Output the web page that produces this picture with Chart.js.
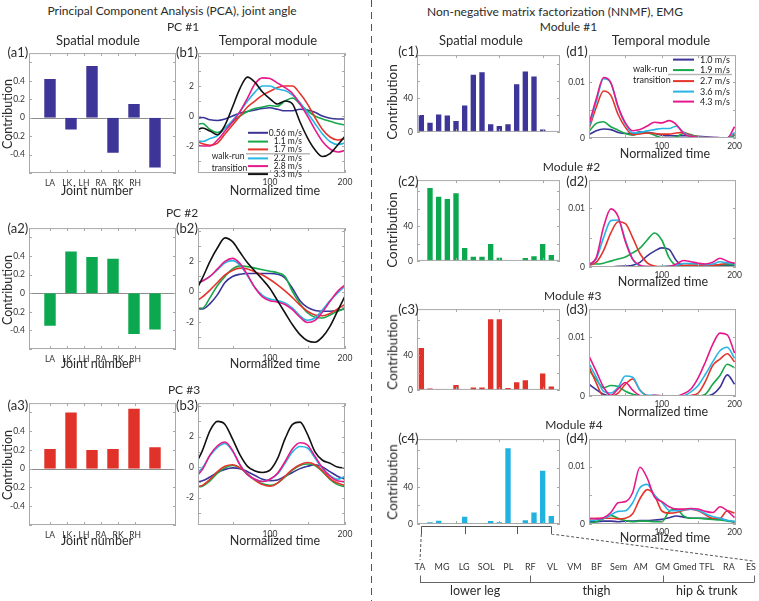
<!DOCTYPE html>
<html>
<head>
<meta charset="utf-8">
<title>PCA joint angle and NNMF EMG modules</title>
<script src="https://cdn.jsdelivr.net/npm/chart.js@4.4.1/dist/chart.umd.min.js"></script>
<style>
  html, body { margin: 0; padding: 0; background: #fff; }
  #fig { position: relative; width: 759px; height: 601px; overflow: hidden;
         font-family: Lato, "Open Sans", "DejaVu Sans", sans-serif; color: #2b2b2b; }
  #fig canvas { position: absolute; }
  .txt { position: absolute; white-space: nowrap; line-height: 1; transform: translate(-50%, -50%); }
  #sep { position: absolute; left: 371px; top: 0; width: 1px; height: 601px;
         background: repeating-linear-gradient(to bottom, #555 0 7px, transparent 7px 12px); }
</style>
</head>
<body>
<div id="fig"><div id="sep"></div></div>
<script>
// ---------- data: PCA, joint angle ----------
const joints = ["LA", "LK", "LH", "RA", "RK", "RH"];
const jointTickPos = [1, 1.82, 2.62, 3.43, 4.24, 5.05];
const pc1Spatial = [0.43, -0.14, 0.57, -0.39, 0.16, -0.55];
const pc2Spatial = [-0.36, 0.46, 0.40, 0.38, -0.45, -0.40];
const pc3Spatial = [0.22, 0.61, 0.21, 0.22, 0.65, 0.24];

const timeAxis = [0, 10, 20, 30, 40, 50, 60, 70, 80, 90, 100, 110, 120, 130, 140, 150, 160, 170, 180, 190, 200];
const pcaSpeeds = ["0.56 m/s", "1.1 m/s", "1.7 m/s", "2.2 m/s", "2.8 m/s", "3.3 m/s"];

// one row per speed, same order as pcaSpeeds
const pc1Temporal = [
  [-0.2, -0.1, -0.25, -0.3, -0.2, 0.0, 0.2, 0.3, 0.4, 0.5, 0.55, 0.45, 0.35, 0.35, 0.45, 0.4, 0.25, 0.0, -0.15, -0.2, -0.2],
  [-0.6, -0.5, -0.9, -1.1, -0.8, -0.4, 0.0, 0.3, 0.5, 0.6, 0.7, 0.65, 1.0, 1.2, 0.8, 0.35, 0.0, -0.2, -0.35, -0.5, -0.6],
  [-1.6, -1.85, -1.95, -1.8, -1.2, -0.6, 0.0, 0.6, 1.0, 1.4, 1.65, 1.9, 2.0, 2.0, 1.5, 0.8, -0.1, -0.9, -1.4, -1.6, -1.5],
  [-1.65, -1.7, -1.5, -1.3, -0.8, -0.3, 0.3, 1.0, 1.6, 2.0, 2.0, 1.8, 1.7, 1.4, 0.9, 0.2, -0.5, -1.2, -1.7, -1.9, -1.8],
  [-1.9, -2.0, -2.0, -1.6, -1.0, -0.4, 0.3, 1.2, 2.15, 2.55, 2.5, 2.2, 1.9, 1.5, 0.8, 0.0, -0.9, -1.7, -2.2, -2.4, -2.3],
  [-1.0, -0.8, -1.0, -1.25, -0.6, 0.6, 1.85, 2.6, 2.25, 1.6, 1.15, 0.8, 1.0, 0.8, -0.4, -1.45, -2.25, -2.7, -2.5, -1.95, -1.35]
];
const pc2Temporal = [
  [-1.1, -1.15, -0.8, -0.2, 0.6, 1.0, 1.15, 1.2, 1.2, 1.2, 1.2, 1.15, 0.9, 0.2, -0.6, -1.05, -1.25, -1.3, -1.3, -1.25, -1.15],
  [-1.05, -1.1, -0.4, 0.4, 1.0, 1.5, 1.7, 1.65, 1.55, 1.45, 1.35, 1.25, 1.0, 0.0, -0.8, -1.4, -1.7, -1.75, -1.55, -1.3, -1.1],
  [-0.7, -0.35, 0.1, 0.6, 1.1, 1.4, 1.55, 1.5, 1.3, 1.1, 0.8, 0.45, 0.05, -0.4, -0.9, -1.3, -1.55, -1.6, -1.45, -1.15, -0.85],
  [0.5, 0.7, 1.0, 1.45, 1.9, 2.05, 1.75, 1.05, 0.25, -0.25, -0.5, -0.6, -0.75, -1.1, -1.6, -1.9, -1.75, -1.2, -0.6, -0.1, 0.35],
  [0.5, 0.7, 1.0, 1.5, 2.0, 2.2, 1.85, 1.1, 0.25, -0.35, -0.6, -0.7, -0.85, -1.2, -1.7, -2.05, -1.9, -1.35, -0.65, 0.0, 0.45],
  [-0.05, 0.9, 2.0, 2.9, 3.55, 3.3, 2.6, 1.9, 1.35, 0.8, 0.2, -0.6, -1.4, -2.2, -2.85, -3.25, -3.35, -3.0, -2.3, -1.3, -0.3]
];
const pc3Temporal = [
  [-1.0, -0.9, -0.65, -0.35, -0.15, -0.05, -0.1, -0.3, -0.55, -0.8, -0.9, -0.85, -0.6, -0.35, -0.1, 0.05, 0.15, 0.0, -0.3, -0.6, -0.8],
  [-1.3, -1.25, -0.9, -0.4, -0.05, 0.1, -0.05, -0.45, -0.85, -1.1, -1.2, -1.05, -0.65, -0.2, 0.1, 0.2, 0.1, -0.3, -0.8, -1.15, -1.3],
  [-1.3, -1.2, -0.8, -0.3, 0.05, 0.15, -0.05, -0.45, -0.85, -1.15, -1.25, -1.05, -0.6, -0.15, 0.15, 0.3, 0.15, -0.25, -0.75, -1.05, -1.2],
  [-0.5, -0.05, 0.75, 1.3, 1.55, 1.05, 0.15, -0.5, -0.8, -0.95, -0.8, -0.45, 0.25, 1.0, 1.35, 1.25, 0.6, -0.1, -0.55, -0.8, -0.6],
  [-0.7, -0.15, 0.8, 1.4, 1.65, 1.1, 0.15, -0.5, -0.8, -0.95, -0.8, -0.4, 0.35, 1.2, 1.6, 1.45, 0.7, -0.05, -0.6, -0.9, -0.95],
  [0.1, 1.1, 2.4, 3.0, 2.8, 1.85, 0.8, 0.05, -0.25, -0.35, -0.2, 0.55, 1.85, 2.8, 2.95, 2.15, 1.0, 0.45, 0.25, 0.0, -0.05]
];

// ---------- data: NNMF, EMG ----------
const muscles = ["TA", "MG", "LG", "SOL", "PL", "RF", "VL", "VM", "BF", "Sem", "AM", "GM", "Gmed", "TFL", "RA", "ES"];
const muscleGroups = ["lower leg", "thigh", "hip & trunk"];
const groupEdges = [0, 5, 11, 15]; // muscle index at each bracket tick

const mod1Spatial = [21, 12, 21.5, 20.5, 14, 32, 68, 71, 10, 8, 10, 57, 72, 66, 4, 0.5];
const mod2Spatial = [0.3, 85, 75, 72.5, 79, 16, 6, 6, 20.5, 4.7, 0.3, 0.3, 4.4, 6.4, 20.5, 7.8];
const mod3Spatial = [49.5, 2.7, 1, 0, 6.8, 0, 4, 4, 82.5, 82.5, 3.4, 10, 12.2, 0, 20, 5];
const mod4Spatial = [1.7, 3, 4.7, 0.3, 0.2, 8.8, 2, 0, 4.4, 3, 82.8, 2, 5, 13.5, 58.6, 9.8];

const emgSpeeds = ["1.0 m/s", "1.9 m/s", "2.7 m/s", "3.6 m/s", "4.3 m/s"];
// temporal modules in units of 1e-3, one row per speed (emgSpeeds order)
const mod1TemporalMilli = [
  [0.6, 1.3, 1.6, 1.5, 1.0, 0.8, 0.8, 1.1, 1.0, 0.8, 0.5, 0.4, 0.4, 0.4, 0.4, 0.3, 0.2, 0.1, 0.05, 0.05, 0.5],
  [1.2, 2.6, 2.9, 2.0, 1.4, 0.8, 0.5, 0.9, 0.9, 0.5, 0.05, 0.0, 0.2, 0.8, 0.6, 0.2, 0.05, 0.0, 0.0, 0.0, 0.5],
  [1.6, 5.5, 8.4, 7.6, 4.2, 1.9, 0.6, 0.7, 0.9, 0.8, 0.7, 0.7, 0.9, 1.0, 0.5, 0.2, 0.1, 0.05, 0.05, 0.0, 0.8],
  [1.9, 6.5, 10.6, 9.8, 5.5, 2.5, 0.9, 1.0, 1.3, 1.5, 1.7, 1.7, 2.1, 1.0, 0.3, 0.2, 0.1, 0.1, 0.05, 0.0, 1.0],
  [2.4, 7.0, 10.8, 9.9, 5.6, 2.7, 1.3, 1.5, 2.15, 2.8, 2.7, 3.1, 2.4, 0.8, 0.25, 0.15, 0.1, 0.1, 0.05, 0.0, 2.0]
];
const mod2TemporalMilli = [
  [0.1, 0.05, 0.05, 0.05, 0.1, 0.15, 0.3, 0.8, 1.9, 2.7, 3.25, 3.0, 1.1, 0.2, 0.1, 0.1, 0.1, 0.1, 0.2, 0.2, 0.2],
  [0.6, 0.5, 0.65, 1.0, 1.35, 1.7, 2.4, 3.2, 4.6, 5.8, 4.6, 1.6, 0.3, 0.2, 0.3, 0.3, 0.3, 0.3, 0.4, 0.4, 0.4],
  [0.3, 0.8, 2.8, 5.8, 7.7, 7.4, 5.0, 2.3, 0.7, 0.15, 0.05, 0.05, 0.1, 0.3, 0.3, 0.3, 0.3, 0.3, 0.4, 0.6, 0.7],
  [0.4, 1.4, 5.0, 7.9, 8.0, 4.6, 1.3, 0.2, 0.05, 0.05, 0.1, 0.15, 0.3, 0.6, 0.6, 0.5, 0.4, 0.5, 0.9, 0.7, 0.5],
  [0.4, 1.6, 6.8, 9.9, 8.6, 4.3, 1.35, 0.3, 0.1, 0.05, 0.05, 0.1, 0.5, 1.1, 0.9, 0.65, 0.5, 0.8, 1.5, 1.0, 0.6]
];
const mod3TemporalMilli = [
  [2.0, 1.1, 0.3, 0.0, 0.0, 0.0, 0.0, 0.0, 0.0, 0.0, 0.0, 0.0, 0.0, 0.0, 0.0, 0.0, 0.0, 0.3, 1.5, 3.6, 2.0],
  [4.4, 2.8, 1.4, 1.8, 1.6, 0.8, 0.3, 0.05, 0.0, 0.0, 0.0, 0.0, 0.0, 0.0, 0.0, 0.0, 0.3, 2.0, 3.5, 5.4, 4.8],
  [5.0, 2.2, 0.0, 0.0, 0.5, 2.0, 2.9, 1.0, 0.1, 0.0, 0.0, 0.0, 0.0, 0.0, 0.1, 0.5, 2.5, 5.2, 6.3, 7.2, 5.8],
  [5.5, 3.2, 0.8, 0.5, 1.5, 3.4, 3.2, 1.0, 0.1, 0.1, 0.0, 0.0, 0.0, 0.05, 0.7, 1.8, 3.7, 5.8, 7.7, 8.3, 6.4],
  [6.8, 4.2, 1.5, 0.1, 1.2, 2.3, 1.0, 0.1, 0.0, 0.1, 0.05, 0.0, 0.0, 0.4, 1.2, 3.1, 5.8, 8.8, 10.7, 10.4, 7.3]
];
const mod4TemporalMilli = [
  [0.4, 0.4, 0.5, 0.5, 0.4, 0.5, 0.5, 0.6, 0.6, 0.7, 0.8, 1.1, 1.4, 1.2, 1.0, 1.0, 1.0, 0.9, 0.9, 0.6, 0.3],
  [0.1, 0.4, 0.9, 1.5, 1.0, 0.6, 0.4, 0.5, 0.5, 0.4, 0.4, 2.2, 2.6, 1.4, 1.0, 1.0, 0.9, 0.8, 0.7, 0.5, 0.4],
  [0.9, 1.0, 1.0, 1.0, 0.9, 1.0, 1.8, 4.4, 6.0, 5.0, 2.3, 1.9, 2.0, 2.4, 2.6, 2.3, 1.6, 1.0, 1.0, 2.3, 1.9],
  [0.6, 0.7, 1.0, 1.6, 2.2, 2.3, 3.7, 6.3, 6.9, 5.0, 3.8, 2.4, 2.3, 2.5, 2.6, 2.4, 1.8, 1.3, 1.0, 0.6, 0.5],
  [1.0, 0.9, 1.1, 2.0, 3.7, 3.9, 5.5, 9.9, 8.0, 4.7, 3.9, 3.0, 2.6, 2.6, 2.7, 2.6, 2.2, 2.0, 3.0, 2.3, 1.1]
];

// ticks
const pcaYTicks = [-0.6, -0.4, -0.2, 0, 0.2, 0.4, 0.6];
const pcaYLabels = [-0.4, -0.2, 0, 0.2, 0.4];
const tempYTicks = [-3, -2, -1, 0, 1, 2, 3, 4];
const tempYLabels = [-2, 0, 2];
const timeTicks = [50, 100, 150, 200];
const timeLabels = [100, 200];
const contribTicks = [0, 20, 40, 60, 80];
const contribLabels = [0, 40];
const muscleTicks = [5, 10, 15];
const emgYTicks = [0, 0.005, 0.01];
const emgYLabels = [0, 0.01];

// ---------- setup ----------
const FONT = 'Lato, "Open Sans", "DejaVu Sans", sans-serif';
Chart.defaults.font.family = FONT;
Chart.defaults.color = "#333";

const LINE_COLORS = ["#3a3398", "#16a84a", "#e5352b", "#27b5e5", "#e6198b", "#111111"];
const fig = document.getElementById("fig");
const charts = {};

const boxPlugin = {
  id: "box",
  beforeDatasetsDraw(chart, args, o) {
    if (!o.zeroLine) return;
    const { ctx, chartArea: a } = chart;
    const y = Math.round(chart.scales.y.getPixelForValue(0)) + 0.5;
    ctx.save();
    ctx.strokeStyle = "#8c8c8c";
    ctx.lineWidth = 1;
    ctx.beginPath();
    ctx.moveTo(a.left, y);
    ctx.lineTo(a.right, y);
    ctx.stroke();
    ctx.restore();
  },
  afterDatasetsDraw(chart) {
    const { ctx, chartArea: a, scales } = chart;
    ctx.save();
    ctx.strokeStyle = "#a9a9a9";
    ctx.lineWidth = 1;
    ctx.strokeRect(a.left + 0.5, a.top + 0.5, a.right - a.left - 1, a.bottom - a.top - 1);
    ctx.beginPath();
    scales.x.ticks.forEach((t) => {
      const x = Math.round(scales.x.getPixelForValue(t.value)) + 0.5;
      ctx.moveTo(x, a.bottom); ctx.lineTo(x, a.bottom - 3);
      ctx.moveTo(x, a.top); ctx.lineTo(x, a.top + 3);
    });
    scales.y.ticks.forEach((t) => {
      const y = Math.round(scales.y.getPixelForValue(t.value)) + 0.5;
      ctx.moveTo(a.left, y); ctx.lineTo(a.left + 3, y);
      ctx.moveTo(a.right, y); ctx.lineTo(a.right - 3, y);
    });
    ctx.stroke();
    ctx.restore();
  }
};

// legend with the walk-run transition marker
const speedLegend = {
  id: "speedLegend",
  afterDatasetsDraw(chart, args, o) {
    if (!o.names) return;
    const { ctx, chartArea: a } = chart;
    ctx.save();
    ctx.font = o.size + "px " + FONT;
    ctx.textBaseline = "middle";
    o.names.forEach((name, i) => {
      const y = a.top + o.rows[i];
      ctx.strokeStyle = chart.data.datasets[i].borderColor;
      ctx.lineWidth = 2;
      ctx.beginPath();
      ctx.moveTo(a.left + o.line[0], y);
      ctx.lineTo(a.left + o.line[1], y);
      ctx.stroke();
      ctx.fillStyle = "#222";
      ctx.textAlign = o.align;
      ctx.fillText(name, a.left + o.textX, y);
    });
    ctx.strokeStyle = "#b8b8b8";
    ctx.lineWidth = 1.5;
    ctx.beginPath();
    ctx.moveTo(a.left + o.sep[0], a.top + o.sep[2]);
    ctx.lineTo(a.left + o.sep[1], a.top + o.sep[2]);
    ctx.stroke();
    ctx.fillStyle = "#222";
    ctx.textAlign = "left";
    ctx.fillText("walk-run", a.left + o.note[0], a.top + o.note[1]);
    ctx.fillText("transition", a.left + o.note[0], a.top + o.note[2]);
    ctx.restore();
  }
};

// bracket under the c4 axis
const c4Bracket = {
  id: "c4Bracket",
  afterDraw(chart) {
    const { ctx, chartArea: a, scales: { x } } = chart;
    const y0 = a.bottom + 2.5, y1 = a.bottom + 10;
    ctx.save();
    ctx.strokeStyle = "#555";
    ctx.lineWidth = 1;
    ctx.beginPath();
    ctx.moveTo(x.getPixelForValue(1), y0);
    ctx.lineTo(x.getPixelForValue(muscles.length), y0);
    groupEdges.forEach((e) => {
      const xx = Math.round(x.getPixelForValue(e + 1)) + 0.5;
      ctx.moveTo(xx, y0);
      ctx.lineTo(xx, y1);
    });
    ctx.stroke();
    ctx.restore();
  }
};

// expanded muscle axis with the zoom lines and group brackets
const muscleAxis = {
  id: "muscleAxis",
  afterDraw(chart) {
    const { ctx, chartArea: a, scales: { x } } = chart;
    const c4 = charts.c4;
    const dx = c4.canvas.offsetLeft - chart.canvas.offsetLeft;
    const px = (i) => x.getPixelForValue(i);
    ctx.save();
    ctx.strokeStyle = "#555";
    ctx.lineWidth = 1;
    ctx.setLineDash([3, 2]);
    ctx.beginPath();
    ctx.moveTo(c4.scales.x.getPixelForValue(1) + dx, 0);
    ctx.lineTo(px(0), a.bottom + 1);
    ctx.moveTo(c4.scales.x.getPixelForValue(muscles.length) + dx, 0);
    ctx.lineTo(px(muscles.length - 1) + 2, a.bottom + 2);
    ctx.stroke();
    ctx.setLineDash([]);
    const yb = a.bottom + 23.5, yt = a.bottom + 16.5;
    ctx.strokeStyle = "#666";
    ctx.beginPath();
    ctx.moveTo(px(groupEdges[0]), yb);
    ctx.lineTo(px(groupEdges[groupEdges.length - 1]) + 3, yb);
    groupEdges.forEach((e, k) => {
      const xx = Math.round(px(e) + (k === groupEdges.length - 1 ? 3 : 0)) + 0.5;
      ctx.moveTo(xx, yb);
      ctx.lineTo(xx, yt);
    });
    ctx.stroke();
    ctx.fillStyle = "#2b2b2b";
    ctx.font = "12.5px " + FONT;
    ctx.textAlign = "center";
    ctx.textBaseline = "middle";
    muscleGroups.forEach((g, k) => {
      ctx.fillText(g, (px(groupEdges[k]) + px(groupEdges[k + 1])) / 2, a.bottom + 32);
    });
    ctx.restore();
  }
};

function placeCanvas(area, pad) {
  const c = document.createElement("canvas");
  const w = area.r - area.l + pad.L + pad.R;
  const h = area.b - area.t + pad.T + pad.B;
  c.width = w;
  c.height = h;
  c.style.cssText = `left:${area.l - pad.L}px;top:${area.t - pad.T}px;width:${w}px;height:${h}px;`;
  fig.appendChild(c);
  return c;
}

function linScale(cfg, size, isX) {
  return {
    type: "linear",
    min: cfg.min,
    max: cfg.max,
    offset: false,
    grid: { display: false, drawTicks: false, offset: false },
    border: { display: false },
    afterBuildTicks: (s) => { s.ticks = cfg.ticks.map((v) => ({ value: v })); },
    ticks: {
      display: cfg.format !== null,
      autoSkip: false,
      maxRotation: 0,
      padding: cfg.padding || 4,
      font: { size: 8.5 },
      color: "#333",
      callback: cfg.format || (() => "")
    },
    afterFit: (s) => { if (isX) s.height = size; else s.width = size; }
  };
}

const shown = (list) => (v) => (list.includes(v) ? String(v) : "");

function makeChart(key, area, pad, type, datasets, xCfg, yCfg, pluginOpts, extraPlugins) {
  const canvas = placeCanvas(area, pad);
  charts[key] = new Chart(canvas, {
    type,
    data: { datasets },
    options: {
      responsive: false,
      animation: false,
      events: [],
      layout: { autoPadding: false, padding: { left: 0, top: pad.T, right: pad.R, bottom: 0 } },
      scales: { x: linScale(xCfg, pad.B, true), y: linScale(yCfg, pad.L, false) },
      plugins: Object.assign({ legend: { display: false }, tooltip: { enabled: false } }, pluginOpts)
    },
    plugins: [boxPlugin, speedLegend].concat(extraPlugins || [])
  });
}

function barSet(values, color, pct) {
  return [{
    data: values.map((v, i) => ({ x: i + 1, y: v })),
    backgroundColor: color,
    borderColor: "rgba(255,255,255,0.45)",
    borderWidth: 1,
    barPercentage: pct,
    categoryPercentage: 1
  }];
}

function lineSets(rows, scale) {
  return rows.map((vals, i) => ({
    data: vals.map((v, k) => ({ x: timeAxis[k], y: v * scale })),
    borderColor: LINE_COLORS[i],
    borderWidth: 1.6,
    pointRadius: 0,
    fill: false,
    cubicInterpolationMode: "monotone",
    order: rows.length - i
  }));
}

// ---------- left: PCA ----------
const jointX = { min: 0, max: 7, ticks: jointTickPos, format: (v, i) => joints[i], padding: 5 };
const pcaY = { min: -0.6, max: 0.7, ticks: pcaYTicks, format: shown(pcaYLabels) };
const pcaPad = { L: 29, T: 4, R: 4, B: 15 };
const pcaBars = [["a1", 48, 173, pc1Spatial, "#3d3597"], ["a2", 223, 349, pc2Spatial, "#0ba84f"], ["a3", 398, 525, pc3Spatial, "#e1322a"]];
pcaBars.forEach(([key, t, b, vals, col]) => {
  makeChart(key, { l: 29, t, r: 176, b }, pcaPad, "bar", barSet(vals, col, 0.8), jointX, pcaY, { box: { zeroLine: true } });
});

const timeX = { min: 4, max: 200, ticks: timeTicks, format: shown(timeLabels), padding: 4 };
const tempY = { min: -3.8, max: 4.2, ticks: tempYTicks, format: shown(tempYLabels) };
const tempPad = { L: 22, T: 4, R: 12, B: 15 };
[["b1", 48, 173, pc1Temporal], ["b2", 223, 349, pc2Temporal], ["b3", 398, 525, pc3Temporal]].forEach(([key, t, b, rows]) => {
  const legend = key === "b1" ? {
    names: pcaSpeeds, rows: [79.7, 88.5, 96.3, 105.3, 113, 121], line: [50, 70], textX: 104, align: "right",
    sep: [48, 112, 100.6], note: [13.7, 102.7, 114.7], size: 8.5
  } : {};
  makeChart(key, { l: 198, t, r: 345, b }, tempPad, "line", lineSets(rows, 1), timeX, tempY, { speedLegend: legend });
});

// ---------- right: NNMF ----------
const muscleX = { min: 0.5, max: 17, ticks: muscleTicks, format: null };
const spatialBars = [
  ["c1", 49, 138, mod1Spatial, "#3d3597", 90],
  ["c2", 174, 267, mod2Spatial, "#0ba84f", 93],
  ["c3", 303, 396, mod3Spatial, "#e1322a", 93],
  ["c4", 433, 524, mod4Spatial, "#22b2df", 91.5]
];
spatialBars.forEach(([key, t, b, vals, col, top]) => {
  const pad = { L: 17, T: 3, R: 3, B: key === "c4" ? 12 : 3 };
  const yCfg = { min: 0, max: top, ticks: contribTicks, format: shown(contribLabels) };
  makeChart(key, { l: 417, t, r: 560, b }, pad, "bar", barSet(vals, col, 0.85), muscleX, yCfg, {},
    key === "c4" ? [c4Bracket] : []);
});

const emgX = { min: 0, max: 202, ticks: timeTicks, format: shown(timeLabels), padding: 3 };
const emgY = { min: 0, max: 0.0148, ticks: emgYTicks, format: shown(emgYLabels) };
const emgPad = { L: 24, T: 3, R: 12, B: 13 };
[["d1", 49, 138, mod1TemporalMilli], ["d2", 174, 267, mod2TemporalMilli], ["d3", 303, 396, mod3TemporalMilli], ["d4", 433, 524, mod4TemporalMilli]].forEach(([key, t, b, rows]) => {
  const legend = key === "d1" ? {
    names: emgSpeeds, rows: [4.5, 15, 26, 36.5, 46.5], line: [84, 105], textX: 111, align: "left",
    sep: [79, 143, 19.5], note: [44, 14.3, 25], size: 9
  } : {};
  makeChart(key, { l: 589, t, r: 736, b }, emgPad, "line", lineSets(rows, 0.001), emgX, emgY, { speedLegend: legend });
});

// expanded muscle axis under c4
(function () {
  const canvas = placeCanvas({ l: 420, t: 534, r: 755, b: 559 }, { L: 15, T: 0, R: 4, B: 42 });
  charts.muscles = new Chart(canvas, {
    type: "bar",
    data: { labels: muscles, datasets: [] },
    options: {
      responsive: false,
      animation: false,
      events: [],
      layout: { autoPadding: false, padding: { left: 15, top: 0, right: 4, bottom: 0 } },
      scales: {
        x: {
          type: "category", offset: false,
          grid: { display: false, drawTicks: false, offset: false }, border: { display: false },
          ticks: { autoSkip: false, maxRotation: 0, padding: 3, font: { size: 9 }, color: "#333" },
          afterFit: (s) => { s.height = 42; }
        },
        y: { display: false }
      },
      plugins: { legend: { display: false }, tooltip: { enabled: false } }
    },
    plugins: [muscleAxis]
  });
})();

// ---------- text ----------
const texts = [
  ["Principal Component Analysis (PCA), joint angle", 172, 11, 12],
  ["PC #1", 183, 27, 12],
  ["Spatial module", 98, 39.5, 13],
  ["Temporal module", 268, 39.5, 13],
  ["(a1)", 17.8, 51.5, 13], ["(b1)", 187, 51.5, 13],
  ["Contribution", 8, 114, 12.5, true],
  ["Joint number", 97, 190.7, 12.5], ["Normalized time", 275, 190.7, 12.5],
  ["PC #2", 182, 213.3, 12],
  ["(a2)", 17.8, 228.3, 13], ["(b2)", 187, 228.3, 13],
  ["Contribution", 8, 290, 12.5, true],
  ["Joint number", 97, 364.3, 12.5], ["Normalized time", 275, 364.3, 12.5],
  ["PC #3", 184, 390, 12],
  ["(a3)", 17.8, 405, 13], ["(b3)", 187, 405, 13],
  ["Contribution", 8, 465, 12.5, true],
  ["Joint number", 97, 540.7, 12.5], ["Normalized time", 275, 540.7, 12.5],

  ["Non-negative matrix factorization (NNMF), EMG", 555, 11.7, 12],
  ["Module #1", 568.5, 27.3, 12],
  ["Spatial module", 481, 40, 13],
  ["Temporal module", 661, 40, 13],
  ["(c1)", 408.3, 50.7, 13], ["(d1)", 577, 50.7, 13],
  ["Contribution", 393, 101.7, 13.5, true],
  ["Normalized time", 665, 154, 12.5],
  ["Module #2", 571.5, 166.7, 12],
  ["(c2)", 408.3, 180.7, 13], ["(d2)", 577, 180.7, 13],
  ["Contribution", 393, 230, 13.5, true],
  ["Normalized time", 663, 281.7, 12.5],
  ["Module #3", 572.7, 296, 12],
  ["(c3)", 408.3, 309.3, 13], ["(d3)", 577, 309.3, 13],
  ["Contribution", 393, 351.7, 13.5, true],
  ["Normalized time", 663, 411.7, 12.5],
  ["Module #4", 574, 425, 12],
  ["(c4)", 408.3, 438.3, 13], ["(d4)", 577, 438.3, 13],
  ["Contribution", 393, 481.7, 13.5, true],
  ["Normalized time", 665, 538.3, 12.5]
];
texts.forEach(([str, x, y, size, rot]) => {
  const d = document.createElement("div");
  d.className = "txt";
  d.textContent = str;
  d.style.left = x + "px";
  d.style.top = y + "px";
  d.style.fontSize = size + "px";
  if (rot) d.style.transform = "translate(-50%, -50%) rotate(-90deg)";
  fig.appendChild(d);
});
</script>
</body>
</html>
